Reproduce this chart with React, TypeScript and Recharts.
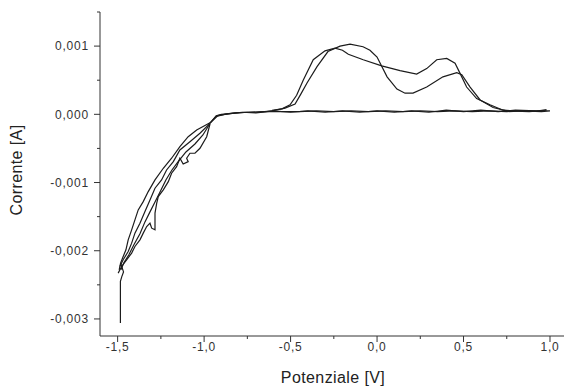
import React from "react";
import { LineChart, Line, XAxis, YAxis, Label } from "recharts";

type Pt = [number, number];

// potential [V], current [mA] (converted to A below)
const startTrace: Pt[] = [
  [-1.484, -3.06], [-1.484, -2.72], [-1.484, -2.45], [-1.476, -2.38], [-1.466, -2.31], [-1.483, -2.18],
];

const cathodicA: Pt[] = [
  [-0.966, -0.123], [-1.043, -0.23], [-1.092, -0.328], [-1.14, -0.474], [-1.188, -0.644],
  [-1.236, -0.791], [-1.284, -0.962], [-1.323, -1.133], [-1.352, -1.28], [-1.381, -1.401],
  [-1.4, -1.548], [-1.419, -1.694], [-1.439, -1.84], [-1.452, -1.987], [-1.468, -2.085],
  [-1.483, -2.182], [-1.491, -2.28],
];

const cathodicB: Pt[] = [
  [-0.966, -0.132], [-1.024, -0.278], [-1.082, -0.401], [-1.14, -0.523], [-1.178, -0.694],
  [-1.217, -0.816], [-1.246, -0.962], [-1.284, -1.083], [-1.313, -1.255], [-1.342, -1.426],
  [-1.371, -1.596], [-1.4, -1.742], [-1.419, -1.889], [-1.439, -2.012], [-1.468, -2.133],
  [-1.487, -2.231],
];

const cathodicC: Pt[] = [
  [-0.966, -0.142], [-0.985, -0.328], [-1.024, -0.498], [-1.053, -0.571], [-1.082, -0.571],
  [-1.101, -0.644], [-1.092, -0.694], [-1.121, -0.728], [-1.14, -0.644], [-1.159, -0.767],
  [-1.188, -0.864], [-1.207, -0.987], [-1.236, -1.108], [-1.265, -1.206], [-1.274, -1.303],
  [-1.284, -1.449], [-1.284, -1.694], [-1.303, -1.669], [-1.313, -1.596], [-1.332, -1.646],
  [-1.352, -1.742], [-1.371, -1.84], [-1.4, -1.938], [-1.419, -2.035], [-1.448, -2.133],
  [-1.477, -2.231], [-1.497, -2.328],
];

const cathodicD: Pt[] = [
  [-0.966, -0.135], [-1.007, -0.303], [-1.053, -0.435], [-1.105, -0.552], [-1.151, -0.698],
  [-1.186, -0.816], [-1.221, -0.962], [-1.255, -1.138], [-1.284, -1.284], [-1.313, -1.43],
  [-1.342, -1.577], [-1.371, -1.752], [-1.406, -1.913], [-1.435, -2.059], [-1.464, -2.177],
  [-1.481, -2.28],
];

const forwardFlat: Pt[] = [
  [-0.966, -0.13], [-0.93, -0.02], [-0.9, 0.0], [-0.85, 0.01], [-0.8, 0.02], [-0.75, 0.03],
  [-0.7, 0.03], [-0.65, 0.04], [-0.607, 0.05],
];

const anodicA: Pt[] = [
  [-0.607, 0.05], [-0.532, 0.09], [-0.474, 0.15], [-0.44, 0.3], [-0.405, 0.46], [-0.347, 0.7],
  [-0.284, 0.92], [-0.214, 1.0], [-0.156, 1.03], [-0.081, 0.99], [-0.041, 0.94], [0.0, 0.84],
  [0.058, 0.55], [0.115, 0.37], [0.162, 0.31], [0.208, 0.31], [0.287, 0.4], [0.381, 0.55],
  [0.461, 0.61], [0.49, 0.58], [0.538, 0.4], [0.596, 0.21], [0.671, 0.1], [0.75, 0.05],
];

const anodicB: Pt[] = [
  [-0.607, 0.06], [-0.55, 0.08], [-0.503, 0.14], [-0.465, 0.28], [-0.427, 0.5], [-0.369, 0.8],
  [-0.301, 0.93], [-0.243, 0.97], [-0.2, 0.94], [-0.166, 0.88], [-0.08, 0.8], [0.027, 0.71],
  [0.133, 0.64], [0.229, 0.59], [0.287, 0.67], [0.345, 0.8], [0.403, 0.82], [0.451, 0.75],
  [0.48, 0.6], [0.518, 0.4], [0.576, 0.23], [0.653, 0.14], [0.729, 0.06],
];

const returnFlat1: Pt[] = [
  [0.729, 0.06], [0.8, 0.05], [0.9, 0.05], [1.0, 0.05], [0.95, 0.04], [0.85, 0.05], [0.75, 0.04],
  [0.65, 0.05], [0.55, 0.04], [0.45, 0.05], [0.35, 0.04], [0.25, 0.05], [0.15, 0.04],
  [0.05, 0.05], [-0.05, 0.04], [-0.15, 0.05], [-0.25, 0.04], [-0.35, 0.05], [-0.45, 0.04],
  [-0.55, 0.04], [-0.65, 0.04], [-0.75, 0.03], [-0.82, 0.02], [-0.88, 0.0], [-0.93, -0.03],
  [-0.966, -0.13],
];

const returnFlat2: Pt[] = [
  [0.75, 0.05], [0.88, 0.04], [0.98, 0.06], [0.92, 0.05], [0.8, 0.06], [0.7, 0.04],
  [0.6, 0.06], [0.5, 0.04], [0.4, 0.06], [0.3, 0.03], [0.2, 0.05], [0.1, 0.03],
  [0.0, 0.05], [-0.1, 0.03], [-0.2, 0.05], [-0.3, 0.03], [-0.4, 0.05], [-0.5, 0.03],
  [-0.6, 0.05], [-0.7, 0.02], [-0.78, 0.03], [-0.86, 0.01], [-0.92, -0.02], [-0.966, -0.13],
];

const voltTicks = [-1.5, -1.25, -1, -0.75, -0.5, -0.25, 0, 0.25, 0.5, 0.75, 1];
const currentTicksMA = [-3, -2.5, -2, -1.5, -1, -0.5, 0, 0.5, 1, 1.5];

const segments = [
  startTrace, cathodicA, cathodicB, cathodicC, cathodicD,
  forwardFlat, anodicA, anodicB, returnFlat1, returnFlat2,
];

const toRows = (pts: Pt[]) => pts.map(([x, y]) => ({ x, y: y / 1000 }));

const font = '"Liberation Sans", Arial, sans-serif';

const XTick = (props: any) => {
  const { x, y, payload } = props;
  const v = payload.value as number;
  const major = Math.abs(v * 2 - Math.round(v * 2)) < 1e-6;
  return (
    <g>
      <line x1={x} x2={x} y1={y} y2={y + (major ? 6 : 3)} stroke="#333" />
      {major && (
        <text x={x} y={y + 15} textAnchor="middle" fontSize={12} letterSpacing={0.8} fill="#333" fontFamily={font}>
          {v.toFixed(1).replace(".", ",")}
        </text>
      )}
    </g>
  );
};

const YTick = (props: any) => {
  const { x, y, payload } = props;
  const v = payload.value as number;
  const ma = v * 1000;
  const major = Math.abs(ma - Math.round(ma)) < 1e-6;
  return (
    <g>
      <line x1={x} x2={x - (major ? 6 : 3)} y1={y} y2={y} stroke="#333" />
      {major && (
        <text x={x - 11} y={y + 4.3} textAnchor="end" fontSize={12} letterSpacing={0.8} fill="#333" fontFamily={font}>
          {v.toFixed(3).replace(".", ",")}
        </text>
      )}
    </g>
  );
};

export default function App() {
  return (
    <div style={{ position: "absolute", left: 0, top: 0 }}>
      <LineChart width={564} height={387} margin={{ top: 12, right: 0, bottom: 0, left: 0 }}>
        <XAxis
          type="number"
          dataKey="x"
          domain={[-1.602, 1.081]}
          ticks={voltTicks}
          interval={0}
          allowDataOverflow
          height={51}
          tickSize={0}
          tickMargin={0}
          tickLine={false}
          axisLine={{ stroke: "#333" }}
          tick={<XTick />}
        >
          <Label
            content={() => (
              <text x={333} y={383} textAnchor="middle" fontSize={16} letterSpacing={0.4} fill="#222" fontFamily={font}>
                Potenziale [V]
              </text>
            )}
          />
        </XAxis>
        <YAxis
          type="number"
          dataKey="y"
          domain={[-0.00325, 0.0015]}
          ticks={currentTicksMA.map((v) => v / 1000)}
          interval={0}
          allowDataOverflow
          width={100}
          tickSize={0}
          tickMargin={0}
          tickLine={false}
          axisLine={{ stroke: "#333" }}
          tick={<YTick />}
        >
          <Label
            content={() => (
              <text
                x={22}
                y={170}
                transform="rotate(-90 22 170)"
                textAnchor="middle"
                fontSize={16}
                letterSpacing={0.4}
                fill="#222"
                fontFamily={font}
              >
                Corrente [A]
              </text>
            )}
          />
        </YAxis>
        {segments.map((s, i) => (
          <Line
            key={i}
            data={toRows(s)}
            dataKey="y"
            type="linear"
            stroke="#1c1c1c"
            strokeWidth={1.2}
            dot={false}
            isAnimationActive={false}
          />
        ))}
      </LineChart>
    </div>
  );
}
